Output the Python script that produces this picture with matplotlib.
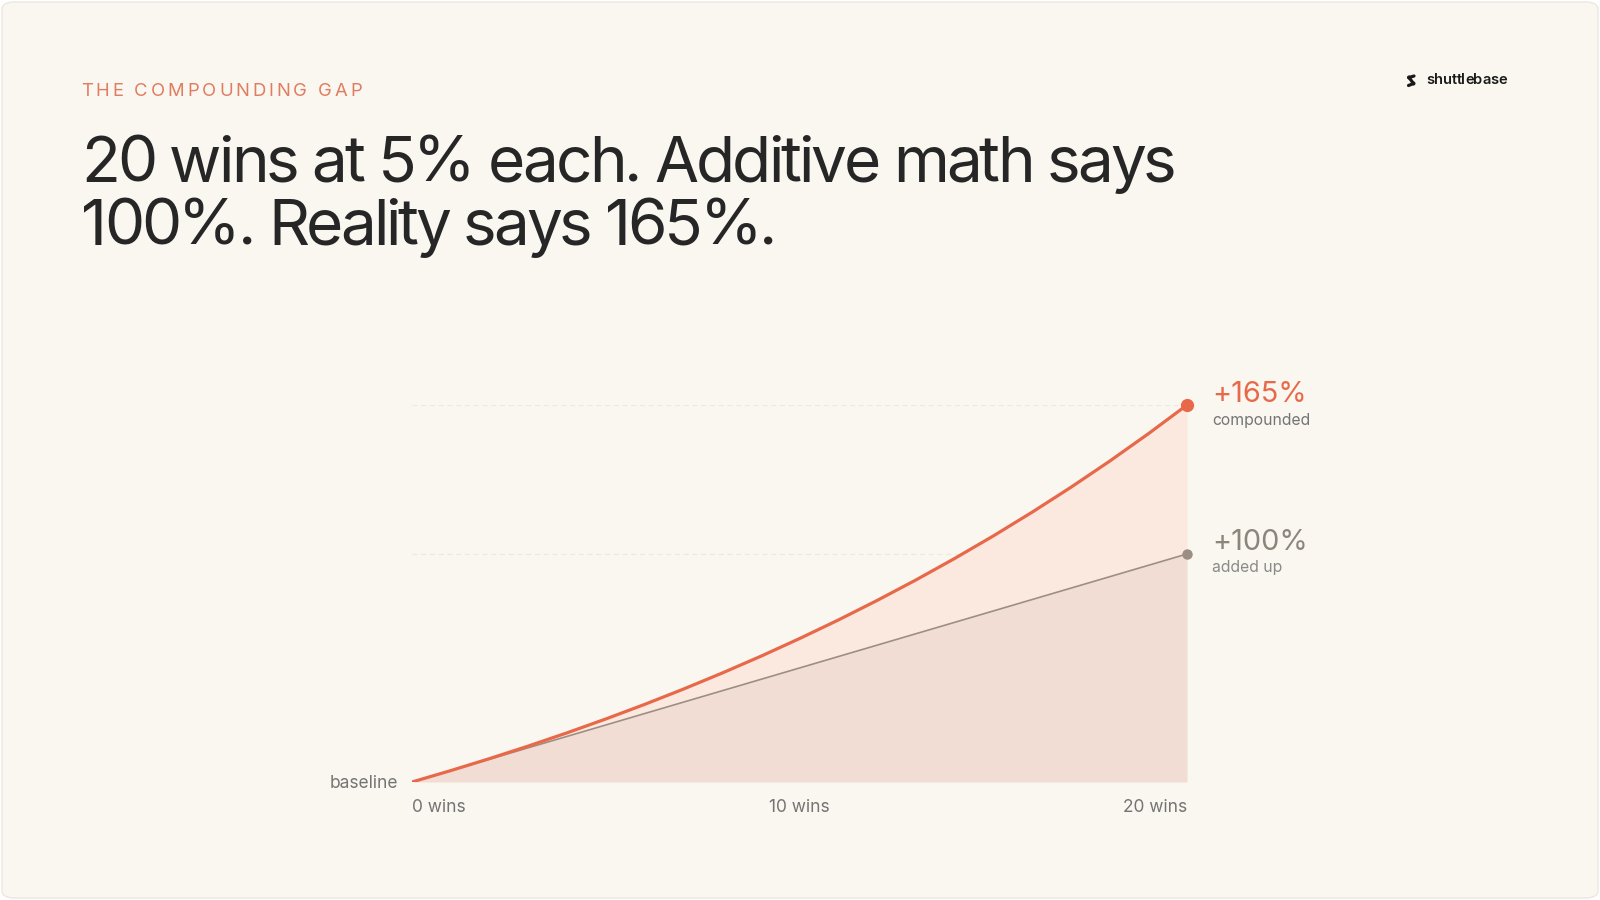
import matplotlib
matplotlib.use("Agg")
import matplotlib.pyplot as plt
from matplotlib.patches import FancyBboxPatch, Circle
from matplotlib.lines import Line2D
from matplotlib.font_manager import FontProperties
from matplotlib.transforms import IdentityTransform

plt.rcParams['font.family'] = ['Inter', 'DejaVu Sans']

# ---- data ----
wins = list(range(0, 21))
compounded = [0, 5.0, 10.25, 15.76, 21.55, 27.63, 34.01, 40.71, 47.75, 55.13, 62.89,
              71.03, 79.59, 88.56, 97.99, 107.89, 118.29, 129.20, 140.66, 152.70, 165.33]
additive = [0, 5, 10, 15, 20, 25, 30, 35, 40, 45, 50, 55, 60, 65, 70, 75, 80, 85, 90, 95, 100]
tick_pos = [0, 10, 20]
tick_labels = ["0 wins", "10 wins", "20 wins"]
gridlines = [100, 165.33]
end_labels = ["+165%", "+100%"]
end_subs = ["compounded", "added up"]
kicker = "THE COMPOUNDING GAP"
title_lines = ["20 wins at 5% each. Additive math says", "100%. Reality says 165%."]

W, H = 1600, 900
BG = "#FAF7F1"
ORANGE = "#E8694A"
GRAY_LINE = "#9C8E82"
FILL_TOP = "#FBE9E0"
FILL_BOT = "#F2DDD4"
TXT_GRAY = "#747474"

fig = plt.figure(figsize=(16, 9), dpi=100, facecolor="white")
renderer = fig.canvas.get_renderer()


def fx(x):
    return x / W


def fy(y):
    return 1 - y / H


card = FancyBboxPatch((fx(2), fy(898)), fx(1596), 896 / H,
                      boxstyle="round,pad=0,rounding_size=0.008",
                      transform=fig.transFigure, facecolor=BG, edgecolor="#ECE8E1",
                      linewidth=1.0, zorder=-5)
fig.patches.append(card)


def tracked_text(x, y, s, tracking, fontsize, weight="normal", **kw):
    fp = FontProperties(family=['Inter', 'DejaVu Sans'], size=fontsize, weight=weight)
    ref_w = renderer.get_text_width_height_descent("|", fp, ismath=False)[0]
    for i, ch in enumerate(s):
        if ch == " ":
            continue
        if i == 0:
            off = 0.0
        else:
            off = renderer.get_text_width_height_descent(s[:i] + "|", fp, ismath=False)[0] - ref_w
        fig.text(fx(x + off + i * tracking), fy(y), ch, fontproperties=fp,
                 ha="left", va="baseline", **kw)


tracked_text(81, 95.5, kicker, 2.9, 13.3, color="#E07C5F")

tracked_text(81, 181.5, title_lines[0], -2.95, 46, color="#262626")
tracked_text(81, 245, title_lines[1], -3.1, 46, color="#262626")

# logo
tracked_text(1426, 84.5, "shuttlebase", -0.2, 10.6, weight="semibold", color="#1A1A1A")
logo_x = [1414.0, 1409.0, 1413.5, 1408.5]
logo_y = [76.0, 77.5, 83.5, 85.5]
fig.lines.append(Line2D(logo_x, [H - v for v in logo_y], transform=IdentityTransform(),
                        color="#1A1A1A", linewidth=2.3, solid_capstyle="round",
                        solid_joinstyle="round", zorder=3))
for (cx, cy) in [(1409.0, 77.5), (1413.5, 83.5)]:
    fig.patches.append(Circle((cx, H - cy), 2.0, transform=IdentityTransform(),
                              facecolor="#1A1A1A", edgecolor="none", zorder=3))

# axes
ax = fig.add_axes([fx(412), fy(782), fx(1187) - fx(412), (782 - 405) / H])
ax.set_facecolor("none")
ax.set_xlim(0, 20)
ax.set_ylim(0, 165.33)
for s in ax.spines.values():
    s.set_visible(False)
ax.set_xticks([])
ax.set_yticks([])

for g in gridlines:
    ax.axhline(g, color="#EEE8E0", linewidth=0.9, linestyle=(0, (4, 3)), zorder=1)

ax.fill_between(wins, additive, compounded, color=FILL_TOP, linewidth=0, zorder=2)
ax.fill_between(wins, 0, additive, color=FILL_BOT, linewidth=0, zorder=2)
ax.plot(wins, additive, color=GRAY_LINE, linewidth=1.2, zorder=3, solid_capstyle="round")
ax.plot(wins, compounded, color=ORANGE, linewidth=2.3, zorder=4, solid_capstyle="round")
ax.plot([wins[-1]], [additive[-1]], "o", color=GRAY_LINE, markersize=6.5, zorder=5, clip_on=False)
ax.plot([wins[-1]], [compounded[-1]], "o", color=ORANGE, markersize=8.5, zorder=6, clip_on=False)

tick_y = -(812 - 782) / (782 - 405)
for p, lab in zip(tick_pos, tick_labels):
    ha = "left" if p == tick_pos[0] else ("right" if p == tick_pos[-1] else "center")
    ax.text(p, tick_y, lab, transform=ax.get_xaxis_transform(), fontsize=12.5, color=TXT_GRAY,
            ha=ha, va="baseline")

fig.text(fx(398), fy(788), "baseline", fontsize=12.5, color=TXT_GRAY, ha="right", va="baseline")

# end labels
fig.text(fx(1212), fy(401.5), end_labels[0], fontsize=20.8, color=ORANGE, ha="left", va="baseline")
fig.text(fx(1212), fy(424.5), end_subs[0], fontsize=11.3, color=TXT_GRAY, ha="left", va="baseline")
fig.text(fx(1212), fy(550), end_labels[1], fontsize=20.8, color="#8C857B", ha="left", va="baseline")
fig.text(fx(1212), fy(572), end_subs[1], fontsize=11.3, color="#8A8A8A", ha="left", va="baseline")

fig.savefig("out.png", dpi=100, facecolor="white")
